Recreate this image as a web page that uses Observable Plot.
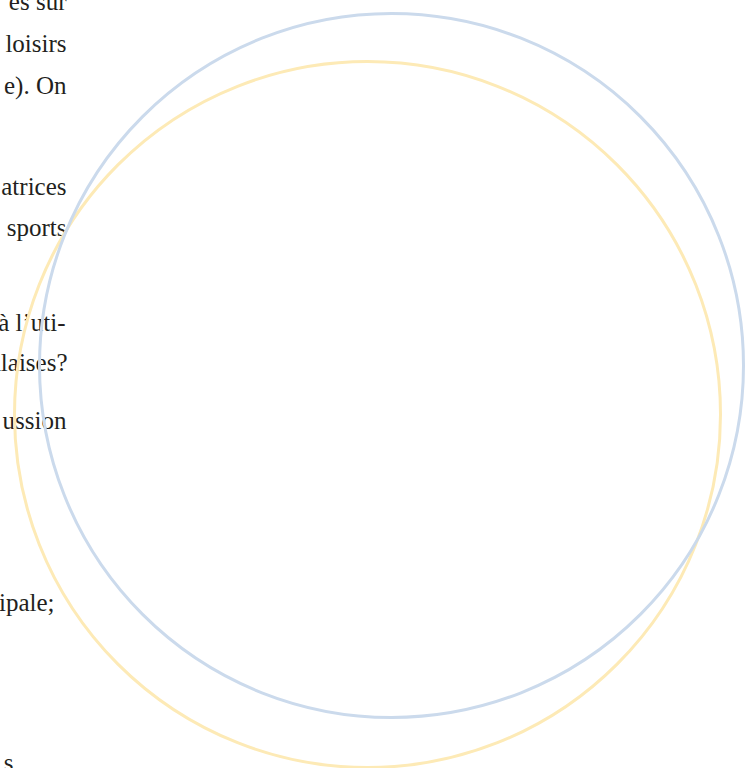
<!DOCTYPE html>
<html>
<head>
<meta charset="utf-8">
<script src="https://cdn.jsdelivr.net/npm/d3@7"></script>
<script src="https://cdn.jsdelivr.net/npm/@observablehq/plot@0.6"></script>
<style>
html, body { margin: 0; padding: 0; background: #fff; overflow: hidden; }
#chart svg { display: block; }
#chart svg text { font-family: "Liberation Serif", "DejaVu Serif", serif; }
</style>
</head>
<body>
<div id="chart"></div>
<script>
// Text fragments visible at the left edge (right ends of justified lines)
const lineTexts = ["es sur", "loisirs", "e). On", "atrices", "sports", "à l’uti-", "alaises?", "ussion", "ipale;", "s"];
const lineBaselines = [9, 51, 93, 194, 235, 330, 370, 428, 610, 770];
const lineEnds = [66, 66, 66, 66, 66, 65, 67, 66, 54, 13];

// Two overlapping circles (centre x, centre y, radius)
const circleNames = ["jaune", "bleu"];
const circleCx = [367, 391];
const circleCy = [414, 365];
const circleR = [353, 352];
const circleColors = ["#fdeab6", "#cbdaec"];

const lines = lineTexts.map((t, i) => ({text: t, x: lineEnds[i], y: lineBaselines[i]}));
const circles = circleNames.map((n, i) => ({name: n, cx: circleCx[i], cy: circleCy[i], r: circleR[i], color: circleColors[i]}));

const W = 747, H = 768;
const chart = Plot.plot({
  width: W,
  height: H,
  margin: 0,
  x: {domain: [0, W], range: [0, W], axis: null},
  y: {domain: [0, H], range: [0, H], axis: null},
  r: {type: "identity"},
  style: {background: "#fff", overflow: "hidden", fontFamily: "'Liberation Serif', 'DejaVu Serif', serif"},
  marks: [
    Plot.text(lines, {
      x: "x", y: "y", text: "text",
      textAnchor: "end", lineAnchor: "bottom",
      fontFamily: "'Liberation Serif', serif", fontSize: 25,
      fill: "#231f20"
    }),
    Plot.dot(circles, {
      x: "cx", y: "cy", r: "r",
      stroke: d => d.color, strokeWidth: 3, fill: "none"
    })
  ]
});
document.getElementById("chart").appendChild(chart);
</script>
</body>
</html>
